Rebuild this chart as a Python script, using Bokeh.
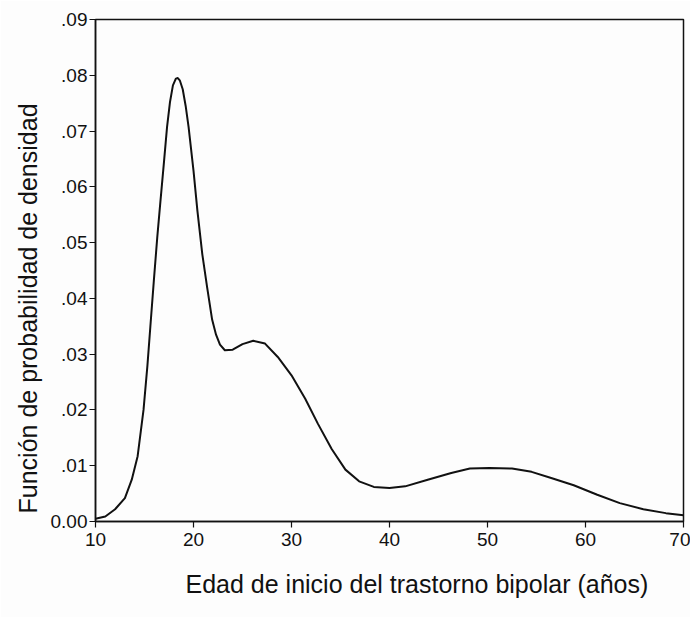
from bokeh.plotting import figure
from bokeh.models import FixedTicker, CustomJSTickFormatter, Range1d, Title
from bokeh.embed import file_html
from bokeh.resources import INLINE

# Data
age = [10.0, 11.0, 12.0, 13.0, 13.7, 14.3, 14.9, 15.3, 15.6, 15.95, 16.3, 16.6, 17.0,
       17.3, 17.6, 17.9, 18.2, 18.4, 18.6, 18.9, 19.2, 19.5, 20.0, 20.4, 20.9, 21.4,
       21.9, 22.3, 22.7, 23.2, 24.0, 25.0, 26.1, 27.3, 28.6, 30.0, 31.4, 32.7, 34.1,
       35.5, 36.9, 38.4, 40.0, 41.6, 43.9, 46.3, 48.2, 50.2, 52.5, 54.5, 56.5, 58.8,
       61.2, 63.5, 65.9, 68.2, 70.0]
density = [0.0005, 0.0009, 0.0022, 0.0042, 0.0075, 0.0117, 0.0200, 0.0280, 0.0350,
           0.0431, 0.0509, 0.0569, 0.0647, 0.0707, 0.0752, 0.0782, 0.0794, 0.0795,
           0.0791, 0.0775, 0.0745, 0.0707, 0.0629, 0.0557, 0.0479, 0.0419, 0.0362,
           0.0335, 0.0317, 0.0307, 0.0308, 0.0318, 0.0324, 0.0319, 0.0295, 0.0262,
           0.0220, 0.0175, 0.0130, 0.0093, 0.0072, 0.0062, 0.0060, 0.0063, 0.0075,
           0.0087, 0.0095, 0.0096, 0.0095, 0.0089, 0.0078, 0.0065, 0.0048, 0.0033,
           0.0022, 0.0015, 0.0011]
x_ticks = [10, 20, 30, 40, 50, 60, 70]
y_ticks = [0.0, 0.01, 0.02, 0.03, 0.04, 0.05, 0.06, 0.07, 0.08, 0.09]
x_title = "Edad de inicio del trastorno bipolar (años)"
y_title = "Función de probabilidad de densidad"

FONT = "Liberation Sans"
INK = "#111111"

p = figure(width=690, height=617, output_backend="svg", toolbar_location=None,
           x_range=Range1d(10, 70), y_range=Range1d(0, 0.09),
           min_border_left=95, min_border_right=7, min_border_top=19,
           min_border_bottom=96, background_fill_color="#fdfdfd",
           border_fill_color="#fdfdfd")

p.line(age, density, line_color=INK, line_width=2, line_join="round")

p.xgrid.visible = False
p.ygrid.visible = False
p.outline_line_color = INK
p.outline_line_width = 1.5

for ax in (p.xaxis[0], p.yaxis[0]):
    ax.axis_line_color = INK
    ax.axis_line_width = 1.5
    ax.major_tick_line_color = INK
    ax.major_tick_line_width = 1.2
    ax.major_tick_out = 6
    ax.major_tick_in = 0
    ax.minor_tick_line_color = None
    ax.major_label_text_font = FONT
    ax.major_label_text_font_size = "19px"
    ax.major_label_text_color = INK

p.xaxis.ticker = FixedTicker(ticks=x_ticks)
p.yaxis.ticker = FixedTicker(ticks=y_ticks)
p.xaxis.major_label_standoff = 5
p.yaxis.major_label_standoff = 2
p.yaxis.formatter = CustomJSTickFormatter(
    code="return tick < 1e-9 ? '0.00' : tick.toFixed(2).replace(/^0/, '');")

p.add_layout(Title(text=x_title, align="left", offset=90, standoff=38,
                   text_font=FONT, text_font_size="25px", text_font_style="normal",
                   text_color=INK), "below")
p.add_layout(Title(text=y_title, align="left", offset=8, standoff=12,
                   text_font=FONT, text_font_size="25px", text_font_style="normal",
                   text_color=INK), "left")

open("out.html", "w").write(file_html(p, INLINE))
